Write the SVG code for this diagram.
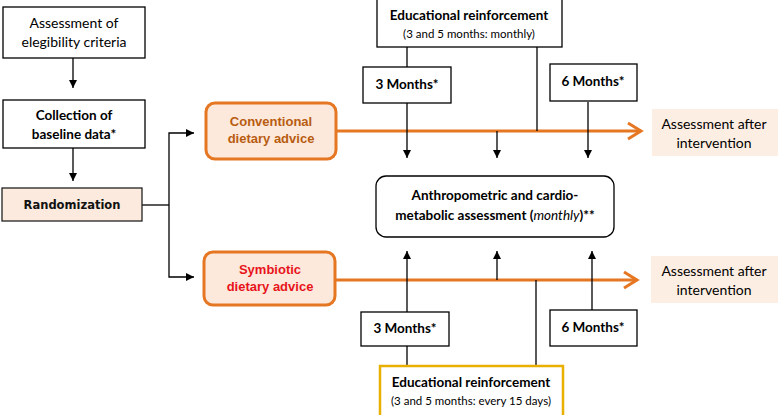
<svg xmlns="http://www.w3.org/2000/svg" width="778" height="415" viewBox="0 0 778 415">
<defs>
<marker id="ah" viewBox="0 0 10 10" refX="10" refY="5" markerWidth="8" markerHeight="8" markerUnits="userSpaceOnUse" orient="auto">
<path d="M0,0 L10,5 L0,10 z" fill="#000"/>
</marker>
</defs>
<style>
.box{fill:#fff;stroke:#000;stroke-width:1.3}
.peach{fill:#fbeadd;stroke:#222;stroke-width:1.3}
.orange{fill:#fce9dc;stroke:#e67722;stroke-width:3}
.plain{fill:#fdeee3;stroke:none}
.yellow{fill:#fff;stroke:#e8b000;stroke-width:2.5}
.t{font-family:Lato,"Open Sans","Liberation Sans",sans-serif;font-size:14px;fill:#000;text-anchor:middle}
.b{font-weight:bold;font-size:13.5px}
.s{font-size:11.5px}
.ln{fill:none;stroke:#000;stroke-width:1.3}
.ol{fill:none;stroke:#e67722;stroke-width:3}
</style>

<g id="connectors">
<line class="ln" x1="73" y1="58" x2="73" y2="88" marker-end="url(#ah)"/>
<line class="ln" x1="73" y1="148" x2="73" y2="181" marker-end="url(#ah)"/>
<polyline class="ln" points="142,205 169,205"/>
<polyline class="ln" points="169,205 169,133 194,133" marker-end="url(#ah)"/>
<polyline class="ln" points="169,205 169,277 194,277" marker-end="url(#ah)"/>
<line class="ol" x1="336" y1="131" x2="641" y2="131"/>
<polyline class="ol" points="628,123 641,131 628,139"/>
<line class="ol" x1="335" y1="280" x2="637" y2="280"/>
<polyline class="ol" points="624,272 637,280 624,288"/>
<line class="ln" x1="407" y1="47" x2="407" y2="67"/>
<line class="ln" x1="407" y1="103" x2="407" y2="158" marker-end="url(#ah)"/>
<line class="ln" x1="497" y1="131" x2="497" y2="158" marker-end="url(#ah)"/>
<line class="ln" x1="537" y1="47" x2="537" y2="131"/>
<line class="ln" x1="588" y1="102" x2="588" y2="158" marker-end="url(#ah)"/>
<line class="ln" x1="407" y1="312" x2="407" y2="251" marker-end="url(#ah)"/>
<line class="ln" x1="497" y1="280" x2="497" y2="251" marker-end="url(#ah)"/>
<line class="ln" x1="592" y1="310" x2="592" y2="251" marker-end="url(#ah)"/>
<line class="ln" x1="407" y1="346" x2="407" y2="366"/>
<line class="ln" x1="536" y1="366" x2="536" y2="280"/>
</g>

<g id="eligibility">
<rect class="box" x="3" y="7" width="142" height="51"/>
<text class="t" x="74" y="28">Assessment of</text>
<text class="t" x="74" y="47">elegibility criteria</text>
</g>
<g id="baseline">
<rect class="box" x="3" y="100" width="142" height="48"/>
<text class="t b" x="74" y="120">Collection of</text>
<text class="t b" x="74" y="139">baseline data*</text>
</g>
<g id="randomization">
<rect class="peach" x="2" y="188" width="140" height="33"/>
<text x="72" y="209" font-family="DejaVu Sans, sans-serif" font-size="11.5" font-weight="bold" text-anchor="middle" fill="#111">Randomization</text>
</g>
<g id="conventional">
<rect class="orange" x="206" y="103" width="130" height="56" rx="9"/>
<text x="271" y="126" font-family="Liberation Sans, Arial, sans-serif" font-size="13" font-weight="bold" text-anchor="middle" fill="#b85c10">Conventional</text>
<text x="271" y="143" font-family="Liberation Sans, Arial, sans-serif" font-size="13" font-weight="bold" text-anchor="middle" fill="#b85c10">dietary advice</text>
</g>
<g id="symbiotic">
<rect class="orange" x="204" y="252" width="131" height="53" rx="9"/>
<text x="270" y="274" font-family="Liberation Sans, Arial, sans-serif" font-size="13" font-weight="bold" text-anchor="middle" fill="#e8141b">Symbiotic</text>
<text x="270" y="291" font-family="Liberation Sans, Arial, sans-serif" font-size="13" font-weight="bold" text-anchor="middle" fill="#e8141b">dietary advice</text>
</g>
<g id="edu-top">
<rect class="box" x="377" y="-2" width="185" height="49"/>
<text class="t b" x="469" y="20">Educational reinforcement</text>
<text class="t s" x="469" y="38">(3 and 5 months: monthly)</text>
</g>
<g id="m3-top">
<rect class="box" x="363" y="67" width="88" height="36"/>
<text class="t b" x="407" y="89">3 Months*</text>
</g>
<g id="m6-top">
<rect class="box" x="550" y="64" width="87" height="37"/>
<text class="t b" x="593" y="86">6 Months*</text>
</g>
<g id="assessment-top">
<rect class="plain" x="652" y="109" width="126" height="47"/>
<text class="t" x="714" y="129">Assessment after</text>
<text class="t" x="714" y="148">intervention</text>
</g>
<g id="central">
<rect class="box" x="376" y="176" width="238" height="61" rx="10"/>
<text class="t b" x="495" y="200">Anthropometric and cardio-</text>
<text class="t b" x="495" y="220">metabolic assessment (<tspan font-style="italic" font-weight="normal">monthly</tspan>)**</text>
</g>
<g id="m3-bottom">
<rect class="box" x="361" y="312" width="88" height="34"/>
<text class="t b" x="405" y="333">3 Months*</text>
</g>
<g id="m6-bottom">
<rect class="box" x="550" y="310" width="87" height="36"/>
<text class="t b" x="593" y="332">6 Months*</text>
</g>
<g id="edu-bottom">
<rect class="yellow" x="380" y="366" width="183" height="52"/>
<text class="t b" x="471" y="387">Educational reinforcement</text>
<text class="t s" x="471" y="405">(3 and 5 months: every 15 days)</text>
</g>
<g id="assessment-bottom">
<rect class="plain" x="651" y="256" width="127" height="47"/>
<text class="t" x="714" y="276">Assessment after</text>
<text class="t" x="714" y="295">intervention</text>
</g>
</svg>
